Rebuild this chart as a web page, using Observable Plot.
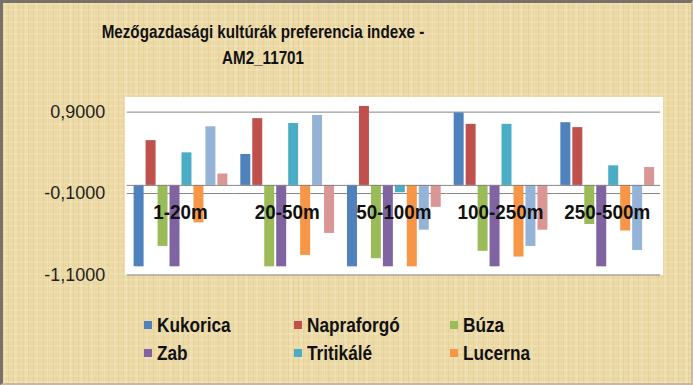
<!DOCTYPE html>
<html>
<head>
<meta charset="utf-8">
<script src="https://cdn.jsdelivr.net/npm/d3@7"></script>
<script src="https://cdn.jsdelivr.net/npm/@observablehq/plot@0.6"></script>
<style>
  html, body { margin: 0; padding: 0; background: #fff; }
  #chart {
    position: relative; width: 693px; height: 385px; box-sizing: border-box; overflow: hidden;
    background-color: #ebd8a3;
    background-image:
      repeating-linear-gradient(90deg, rgba(150,110,40,0.07) 0 1px, transparent 1px 5px),
      repeating-linear-gradient(0deg, rgba(255,250,230,0.18) 0 2px, transparent 2px 6px),
      repeating-linear-gradient(90deg, rgba(255,250,230,0.15) 0 3px, transparent 3px 11px);
    border-left: 3px solid #76726a; border-top: 3px solid #76726a;
    border-right: 2px solid #c9b9a4; border-bottom: 2px solid #c9b9a4;
  }
  #title {
    position: absolute; left: 0; top: 16px; width: 520px; text-align: center;
    font-family: "Liberation Sans", Arial, sans-serif; font-weight: bold;
    font-size: 19px; line-height: 26px; color: #111;
    transform: scaleX(0.8); transform-origin: 260px 0;
  }
  #plotbg { position: absolute; left: 122px; top: 94px; width: 538px; height: 178px; background: #fff; }
  #plot { position: absolute; left: -3px; top: 87px; }
  #legend {
    position: absolute; left: 141px; top: 308px; display: grid;
    grid-template-columns: 150px 156px auto; grid-auto-rows: 28px;
    font-family: "Liberation Sans", Arial, sans-serif; font-weight: bold; font-size: 21px; color: #111;
  }
  .item { display: flex; align-items: center; white-space: nowrap; }
  .sw { width: 8px; height: 8px; margin-right: 5px; display: inline-block; flex: none; }
  .lbl { display: inline-block; transform: scaleX(0.82); transform-origin: 0 50%; }
</style>
</head>
<body>
<div id="chart">
  <div id="title">Mezőgazdasági kultúrák preferencia indexe -<br>AM2_11701</div>
  <div id="plotbg"></div>
  <div id="plot"></div>
  <div id="legend"></div>
</div>
<script>
const groups = ["1-20m", "20-50m", "50-100m", "100-250m", "250-500m"];
const seriesNames = ["Kukorica", "Napraforgó", "Búza", "Zab", "Tritikálé", "Lucerna", "Sorozat7", "Sorozat8"];
const legendSeries = ["Kukorica", "Napraforgó", "Búza", "Zab", "Tritikálé", "Lucerna"];
const seriesColors = ["#4f81bd", "#c0504d", "#9bbb59", "#8064a2", "#4bacc6", "#f79646", "#95b3d7", "#d99694"];

const kukorica   = [-1.00, 0.38, -1.00, 0.89, 0.77];
const napraforgo = [0.55, 0.82, 0.97, 0.75, 0.71];
const buza       = [-0.75, -1.00, -0.90, -0.81, -0.48];
const zab        = [-1.00, -1.00, -1.00, -1.00, -1.00];
const tritikale  = [0.40, 0.76, -0.09, 0.75, 0.24];
const lucerna    = [-0.46, -0.86, -1.00, -0.88, -0.56];
const sorozat7   = [0.72, 0.86, -0.55, -0.75, -0.80];
const sorozat8   = [0.14, -0.59, -0.27, -0.55, 0.22];

const yTicks = [0.9, -0.1, -1.1];

const seriesValues = [kukorica, napraforgo, buza, zab, tritikale, lucerna, sorozat7, sorozat8];
const data = [];
groups.forEach((g, gi) => {
  seriesNames.forEach((s, si) => data.push({group: g, series: s, value: seriesValues[si][gi]}));
});

const chart = Plot.plot({
  width: 693, height: 195,
  marginTop: 7, marginBottom: 10, marginLeft: 125, marginRight: 30,
  style: {background: "transparent", fontFamily: "'Liberation Sans', sans-serif", fontSize: "18px", color: "#222", overflow: "visible"},
  fx: {domain: groups, padding: 0, axis: null},
  x: {domain: seriesNames, paddingInner: 0.2, paddingOuter: 0.27, axis: null},
  y: {domain: [-1.1, 1.08], ticks: yTicks, tickSize: 0, tickPadding: 22, label: null,
      tickFormat: d => d.toFixed(4).replace(".", ",")},
  color: {domain: seriesNames, range: seriesColors},
  marks: [
    Plot.ruleY(yTicks, {stroke: "#868686", strokeWidth: 1}),
    Plot.barY(data, {fx: "group", x: "series", y: "value", fill: "series"}),
    Plot.ruleY([0], {stroke: "#868686", strokeWidth: 1}),
    Plot.text(groups, {fx: d => d, text: d => d, frameAnchor: "bottom", dy: -56,
      fontFamily: "'Liberation Sans', sans-serif", fontWeight: "bold", fontSize: 21, fill: "#111"})
  ]
});
// condense the category labels horizontally (Calibri-like width)
chart.querySelectorAll("text").forEach(t => {
  if (groups.includes(t.textContent)) {
    const tr = t.getAttribute("transform") || "";
    t.setAttribute("transform", tr + " scale(0.9,1)");
  }
});
document.getElementById("plot").appendChild(chart);

const legend = document.getElementById("legend");
legendSeries.forEach(s => {
  const item = document.createElement("div");
  item.className = "item";
  const sw = document.createElement("span");
  sw.className = "sw";
  sw.style.background = seriesColors[seriesNames.indexOf(s)];
  const lbl = document.createElement("span");
  lbl.className = "lbl";
  lbl.textContent = s;
  item.appendChild(sw);
  item.appendChild(lbl);
  legend.appendChild(item);
});
</script>
</body>
</html>
